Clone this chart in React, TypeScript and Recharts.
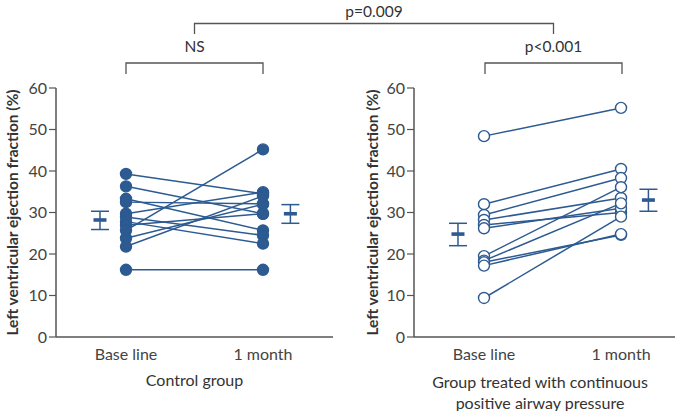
import { ComposedChart, Scatter, XAxis, YAxis, ErrorBar } from "recharts";

const timepoints = ["Base line", "1 month"];
const yTicks = [0, 10, 20, 30, 40, 50, 60];

// control group, one entry per patient
const controlBaseline = [39.3, 36.3, 33.3, 32.5, 29.7, 28.9, 27.8, 26.9, 25.7, 23.8, 21.8, 16.2];
const controlMonth = [34.5, 29.7, 25.7, 32.1, 34.9, 24.5, 22.5, 29.7, 45.2, 32.0, 34.0, 16.2];
const controlMean = [28.2, 29.7];
const controlLow = [25.9, 27.4];
const controlHigh = [30.3, 31.9];

// CPAP group
const cpapBaseline = [48.4, 32.0, 29.4, 28.2, 27.0, 26.2, 19.5, 18.4, 18.0, 17.2, 9.4];
const cpapMonth = [55.2, 40.5, 38.3, 33.5, 30.0, 31.0, 36.1, 32.2, 24.6, 24.8, 29.0];
const cpapMean = [24.8, 33.0];
const cpapLow = [22.0, 30.3];
const cpapHigh = [27.4, 35.6];

const BLUE = "#2c5a91";
const AXIS = "#555";
const FONT = "Lato, 'Open Sans', sans-serif";
const yTitle = "Left ventricular ejection fraction (%)";

type PanelProps = {
  baseline: number[];
  month: number[];
  mean: number[];
  low: number[];
  high: number[];
  filled: boolean;
  left: number;
  width: number;
  domainMax: number;
  titleOffset: number;
};

function Panel(p: PanelProps) {
  const pairs = p.baseline.map((b, i) => [
    { x: 0, y: b },
    { x: 1, y: p.month[i] },
  ]);
  const points = pairs.flat();
  const errData = p.mean.map((m, i) => ({
    x: i === 0 ? -0.19 : 1.2,
    y: m,
    err: [m - p.low[i], p.high[i] - m],
  }));

  return (
    <div style={{ position: "absolute", left: p.left, top: 0 }}>
      <ComposedChart
        width={p.width}
        height={411}
        margin={{ top: 88, right: 0, bottom: 0, left: 0 }}
        style={{ fontFamily: FONT }}
      >
        <XAxis
          type="number"
          dataKey="x"
          domain={[-0.511, p.domainMax]}
          ticks={[0, 1]}
          tickFormatter={(v) => timepoints[v]}
          tickLine={false}
          tickMargin={6}
          height={74}
          axisLine={{ stroke: AXIS, strokeWidth: 1.5 }}
          tick={{ fontSize: 16, fill: "#444" }}
        />
        <YAxis
          type="number"
          dataKey="y"
          domain={[0, 60]}
          ticks={yTicks}
          width={56}
          tickSize={7}
          axisLine={{ stroke: AXIS, strokeWidth: 1.5 }}
          tickLine={{ stroke: AXIS, strokeWidth: 1.2 }}
          tick={{ fontSize: 16, fill: "#444" }}
          label={{
            value: yTitle,
            angle: -90,
            position: "insideLeft",
            offset: p.titleOffset,
            style: { textAnchor: "middle", fontSize: 15.5, fontWeight: 700, fill: "#333" },
          }}
        />
        {pairs.map((d, i) => (
          <Scatter
            key={i}
            data={d}
            line={{ stroke: BLUE, strokeWidth: 1.5 }}
            shape={() => <g />}
            isAnimationActive={false}
          />
        ))}
        <Scatter
          data={points}
          isAnimationActive={false}
          shape={(s: any) => (
            <circle
              cx={s.cx}
              cy={s.cy}
              r={5.5}
              fill={p.filled ? BLUE : "#fff"}
              stroke={BLUE}
              strokeWidth={1.4}
            />
          )}
        />
        <Scatter
          data={errData}
          isAnimationActive={false}
          shape={(s: any) => (
            <rect x={s.cx - 6.5} y={s.cy - 1.8} width={13} height={3.6} fill={BLUE} />
          )}
        >
          <ErrorBar dataKey="err" direction="y" width={9} stroke={BLUE} strokeWidth={1.5} />
        </Scatter>
      </ComposedChart>
    </div>
  );
}

function Overlay() {
  const line = { stroke: AXIS, strokeWidth: 1.3, fill: "none" };
  const txt = { fontFamily: FONT, fontSize: 15.5, fill: "#333", textAnchor: "middle" as const };
  return (
    <svg
      width={692}
      height={411}
      style={{ position: "absolute", left: 0, top: 0, pointerEvents: "none" }}
    >
      <text x={374} y={17} {...txt}>p=0.009</text>
      <polyline points="194.5,34 194.5,23.5 553.5,23.5 553.5,34" {...line} />
      <text x={194.5} y={52} {...txt}>NS</text>
      <polyline points="126,74 126,63 263,63 263,74" {...line} />
      <text x={553.5} y={52} {...txt}>p&lt;0.001</text>
      <polyline points="485,74 485,63 622,63 622,74" {...line} />
      <text x={194.5} y={386} {...txt} fontSize={16}>Control group</text>
      <text x={540} y={388} {...txt} fontSize={16}>Group treated with continuous</text>
      <text x={540} y={409} {...txt} fontSize={16}>positive airway pressure</text>
    </svg>
  );
}

export default function App() {
  return (
    <div style={{ position: "absolute", left: 0, top: 0, width: 692, height: 411, background: "#fff" }}>
      <Panel
        baseline={controlBaseline}
        month={controlMonth}
        mean={controlMean}
        low={controlLow}
        high={controlHigh}
        filled={true}
        left={0}
        width={333}
        domainMax={1.511}
        titleOffset={12}
      />
      <Panel
        baseline={cpapBaseline}
        month={cpapMonth}
        mean={cpapMean}
        low={cpapLow}
        high={cpapHigh}
        filled={false}
        left={358}
        width={317}
        domainMax={1.394}
        titleOffset={14}
      />
      <Overlay />
    </div>
  );
}
